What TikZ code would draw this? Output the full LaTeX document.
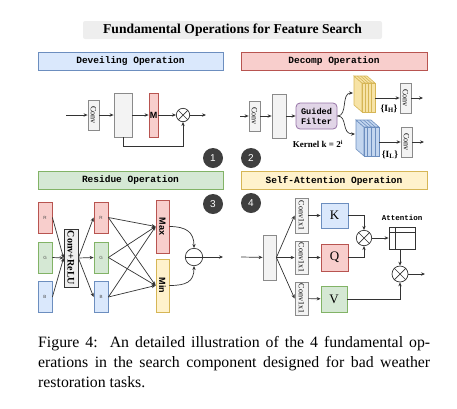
\documentclass[tikz,border=0pt]{standalone}
\usepackage{fontspec}
\setmainfont{Liberation Serif}
\setsansfont{Liberation Sans}
\setmonofont{Liberation Mono}
\usetikzlibrary{arrows.meta,calc}
\definecolor{lineC}{HTML}{333333}
\definecolor{grayD}{HTML}{8A8A8A}
\definecolor{grayF}{HTML}{F3F3F3}
\definecolor{titleF}{HTML}{EEEEEE}
\definecolor{badgeC}{HTML}{3F3F3F}
\definecolor{blueF}{HTML}{DAE8FC}\definecolor{blueD}{HTML}{6C8EBF}
\definecolor{redF}{HTML}{F8CECC}\definecolor{redD}{HTML}{B85450}
\definecolor{greenF}{HTML}{D5E8D4}\definecolor{greenD}{HTML}{82B366}
\definecolor{yelF}{HTML}{FFF2CC}\definecolor{yelD}{HTML}{D6B656}
\definecolor{purF}{HTML}{E1D5E7}\definecolor{purD}{HTML}{9673A6}
\definecolor{stackY}{HTML}{F7E3A6}
\definecolor{stackB}{HTML}{C3D6EF}
\newcommand\mystack[6]{%
  \begin{scope}[line width=0.6pt]
    \filldraw[fill=#5,draw=#6] (#1,#2) -- ({#1-8},{#2-7}) -- ({#1-8},{#2+#4-7}) -- (#1,{#2+#4}) -- cycle;
    \filldraw[fill=#5,draw=#6] (#1,#2) -- ({#1-8},{#2-7}) -- ({#1+#3-8},{#2-7}) -- ({#1+#3},#2) -- cycle;
    \filldraw[fill=#5,draw=#6] (#1,#2) rectangle ({#1+#3},{#2+#4});
    \foreach \i in {1,2,3} {
      \draw[draw=#6] ({#1+\i*#3/4},#2) -- ++(0,#4);
      \draw[draw=#6] ({#1+\i*#3/4},#2) -- ++(-8,-7);
    }
  \end{scope}}
\begin{document}
\begin{tikzpicture}[x=1pt,y=-1pt,
  arr/.style={draw=lineC,line width=0.7pt,-{Stealth[length=4pt,width=3.4pt]}},
  ln/.style={draw=lineC,line width=0.7pt},
  hdr/.style={draw,line width=0.8pt,minimum width=185pt,minimum height=18pt,inner sep=0pt,font=\ttfamily\bfseries\fontsize{9.5}{10}\selectfont},
  gbox/.style={draw=grayD,fill=grayF,line width=0.8pt,inner sep=0pt},
  convbox/.style={gbox,minimum width=11pt,minimum height=30pt,font=\fontsize{8}{8}\selectfont},
  cbox/.style={line width=0.8pt,inner sep=0pt},
  badge/.style={circle,fill=badgeC,text=white,minimum size=20pt,inner sep=0pt,font=\sffamily\fontsize{10}{10}\selectfont},
  op/.style={circle,draw=lineC,line width=0.7pt,fill=white,inner sep=0pt},
  tiny/.style={font=\sffamily\fontsize{4.5}{5}\selectfont,text=black!70},
  qkv/.style={cbox,font=\fontsize{13}{13}\selectfont}
]
\useasboundingbox (0,0) rectangle (457,408);

% title
\node[fill=titleF,rounded corners=2pt,minimum width=299pt,minimum height=18pt,inner sep=0pt,font=\bfseries\fontsize{13.6}{14}\selectfont] (title) at (232.5,30) {Fundamental Operations for Feature Search};

% headers
\node[hdr,fill=blueF,draw=blueD] (h1) at (130.5,61) {Deveiling Operation};
\node[hdr,fill=redF,draw=redD,minimum width=186pt] (h2) at (334,61) {Decomp Operation};
\node[hdr,fill=greenF,draw=greenD] (h3) at (130.5,180.5) {Residue Operation};
\node[hdr,fill=yelF,draw=yelD,minimum width=186pt] (h4) at (334,180.5) {Self-Attention Operation};

% badges
\node[badge] (b1) at (213,158) {1};
\node[badge] (b2) at (251,158) {2};
\node[badge] (b3) at (213,204) {3};
\node[badge] (b4) at (251,203) {4};

% ---------- Deveiling ----------
\coordinate (din) at (66,115);
\node[convbox] (dconv) at (93.5,115) {\rotatebox{-90}{Conv}};
\node[gbox,minimum width=18pt,minimum height=44pt] (dbig) at (123,115) {};
\node[cbox,fill=redF,draw=redD,minimum width=9pt,minimum height=44pt,font=\sffamily\bfseries\fontsize{9}{9}\selectfont] (dM) at (153.5,115) {M};
\node[op,minimum size=13.4pt] (do) at (183,115) {};
\draw[ln] (do.north west)--(do.south east) (do.north east)--(do.south west);
\coordinate (dout) at (206,115);
\draw[arr] (din) -- (dconv);
\draw[arr] (dconv) -- (dbig);
\draw[arr] (dbig) -- (dM);
\draw[arr] (dM) -- (do);
\draw[arr] (do) -- (dout);
\draw[arr] (dbig.south) -- ++(0,9) -| (do.south);

% ---------- Decomp ----------
\coordinate (cin) at (240,116);
\node[convbox] (cconv) at (254.5,116) {\rotatebox{-90}{Conv}};
\node[gbox,minimum width=14pt,minimum height=44pt] (cbig) at (279,116) {};
\node[cbox,fill=purF,draw=purD,rounded corners=4pt,minimum width=41pt,minimum height=26pt,align=center,font=\ttfamily\bfseries\fontsize{8.6}{10}\selectfont] (gf) at (316.5,116) {Guided\\Filter};
\mystack{362}{83}{13}{29}{stackY}{yelD}
\mystack{364}{127}{15}{29}{stackB}{blueD}
\coordinate (ysin) at (353,93);
\coordinate (bsin) at (355,134);
\coordinate (ysout) at (375,98);
\coordinate (bsout) at (379,142);
\node[font=\bfseries\fontsize{9}{9}\selectfont,inner sep=0pt] (kern) at (318,144) {Kernel k = 2$^{\mathbf{i}}$};
\node[font=\bfseries\fontsize{9.5}{9}\selectfont,inner sep=0pt] (lh) at (389,109) {\{I$_{\mathbf{H}}$\}};
\node[font=\bfseries\fontsize{9.5}{9}\selectfont,inner sep=0pt] (ll) at (390,155) {\{I$_{\mathbf{L}}$\}};
\node[convbox] (cconv3) at (405.5,98) {\rotatebox{-90}{Conv}};
\node[convbox] (cconv4) at (406.5,142) {\rotatebox{-90}{Conv}};
\coordinate (cout3) at (423,98);
\coordinate (cout4) at (424,142);
\draw[arr] (cin) -- (cconv);
\draw[arr] (cconv) -- (cbig);
\draw[arr] (cbig) -- (gf);
\draw[arr] (gf.east) .. controls (348,116) and (341,93) .. (ysin);
\draw[arr] (gf.east) .. controls (348,116) and (341,134) .. (bsin);
\draw[arr] (ysout) -- (cconv3.west |- ysout);
\draw[arr] (bsout) -- (cconv4.west |- bsout);
\draw[arr] (cconv3) -- (cout3);
\draw[arr] (cconv4) -- (cout4);

% ---------- Residue ----------
\node[cbox,fill=redF,draw=redD,minimum width=14pt,minimum height=31pt,tiny] (r1) at (45,217.5) {R};
\node[cbox,fill=greenF,draw=greenD,minimum width=14pt,minimum height=31pt,tiny] (g1) at (45,257.5) {G};
\node[cbox,fill=blueF,draw=blueD,minimum width=14pt,minimum height=31pt,tiny] (bb1) at (45,297) {B};
\node[draw=black!80,fill=titleF,line width=0.8pt,inner sep=0pt,minimum width=14pt,minimum height=58pt,font=\bfseries\fontsize{10}{10}\selectfont] (cr) at (71,258) {\rotatebox{-90}{Conv+ReLU}};
\node[cbox,fill=redF,draw=redD,minimum width=14pt,minimum height=31pt,tiny] (r2) at (101,217.5) {R};
\node[cbox,fill=greenF,draw=greenD,minimum width=14pt,minimum height=31pt,tiny] (g2) at (101,257.5) {G};
\node[cbox,fill=blueF,draw=blueD,minimum width=14pt,minimum height=31pt,tiny] (bb2) at (101,297) {B};
\node[cbox,fill=redF,draw=redD,minimum width=13pt,minimum height=53pt,font=\sffamily\bfseries\fontsize{9}{9}\selectfont] (mx) at (162.5,226.5) {\rotatebox{-90}{Max}};
\node[cbox,fill=yelF,draw=yelD,minimum width=13pt,minimum height=53pt,font=\sffamily\bfseries\fontsize{9}{9}\selectfont] (mn) at (162.5,285.5) {\rotatebox{-90}{Min}};
\node[op,minimum size=17.4pt] (mc) at (194,257) {};
\draw[ln] (mc.west) -- (mc.east);
\coordinate (rout) at (223,257);
\foreach \s in {r1,g1,bb1} \draw[arr] (\s.east) -- (cr.west);
\foreach \t in {r2,g2,bb2} \draw[arr] (cr.east) -- (\t.west);
\foreach \s in {r2,g2,bb2} {
  \draw[arr] (\s.east) -- (mx.west);
  \draw[arr] (\s.east) -- (mn.west);
}
\draw[arr] (mx.east) .. controls (186,226.5) and (194,232) .. (mc.north);
\draw[arr] (mn.east) .. controls (186,285.5) and (194,282) .. (mc.south);
\draw[arr] (mc.east) -- (rout);

% ---------- Self-Attention ----------
\coordinate (sin) at (241,257);
\node[gbox,minimum width=13pt,minimum height=45pt] (sbig) at (269.5,257.5) {};
\node[convbox,minimum width=13pt,minimum height=35pt] (s1) at (301.5,215.5) {\rotatebox{-90}{Conv1x1}};
\node[convbox,minimum width=13pt,minimum height=33pt] (s2) at (301.5,257.5) {\rotatebox{-90}{Conv1x1}};
\node[convbox,minimum width=13pt,minimum height=33pt] (s3) at (301.5,298.5) {\rotatebox{-90}{Conv1x1}};
\node[qkv,fill=blueF,draw=blueD,minimum width=27pt,minimum height=25pt] (K) at (334.5,215.5) {K};
\node[qkv,fill=redF,draw=redD,minimum width=27pt,minimum height=27pt] (Q) at (334.5,257.5) {Q};
\node[qkv,fill=greenF,draw=greenD,minimum width=26pt,minimum height=26pt] (V) at (334,299) {V};
\node[op,minimum size=15.4pt] (so1) at (364,238) {};
\draw[ln] (so1.north west)--(so1.south east) (so1.north east)--(so1.south west);
\node[draw=lineC,line width=0.8pt,fill=white,minimum width=26pt,minimum height=22pt,inner sep=0pt] (tbl) at (402,238) {};
\draw[ln] (389,232.5) -- (415,232.5);
\draw[ln] (395,227) -- (395,249);
\node[font=\ttfamily\bfseries\fontsize{7.5}{7.5}\selectfont,inner sep=0pt] (attl) at (402,218) {Attention};
\node[op,minimum size=16pt] (so2) at (400,274) {};
\draw[ln] (so2.north west)--(so2.south east) (so2.north east)--(so2.south west);
\coordinate (sout) at (425,274);
\draw[arr] (sin) -- (sbig);
\draw[arr] (sbig.east) -- (s1.west);
\draw[arr] (sbig.east) -- (s2.west);
\draw[arr] (sbig.east) -- (s3.west);
\draw[arr] (s1) -- (K);
\draw[arr] (s2) -- (Q);
\draw[arr] (s3) -- (V);
\draw[arr] (K.east) -| (so1.north);
\draw[arr] (Q.east) -| (so1.south);
\draw[arr] (so1) -- (tbl);
\draw[arr] (so2.north |- tbl.south) -- (so2.north);
\draw[arr] (V.east) -| (so2.south);
\draw[arr] (so2) -- (sout);

% ---------- caption ----------
\node[anchor=base west,inner sep=0pt,font=\fontsize{15.8}{20}\selectfont] (cap1) at (38,347) {\makebox[392pt][s]{Figure 4:\ \ An detailed illustration of the 4 fundamental op-}};
\node[anchor=base west,inner sep=0pt,font=\fontsize{15.8}{20}\selectfont] (cap2) at (38,367) {\makebox[392pt][s]{erations in the search component designed for bad weather}};
\node[anchor=base west,inner sep=0pt,font=\fontsize{15.8}{20}\selectfont] (cap3) at (38,387) {restoration tasks.};
\end{tikzpicture}
\end{document}
